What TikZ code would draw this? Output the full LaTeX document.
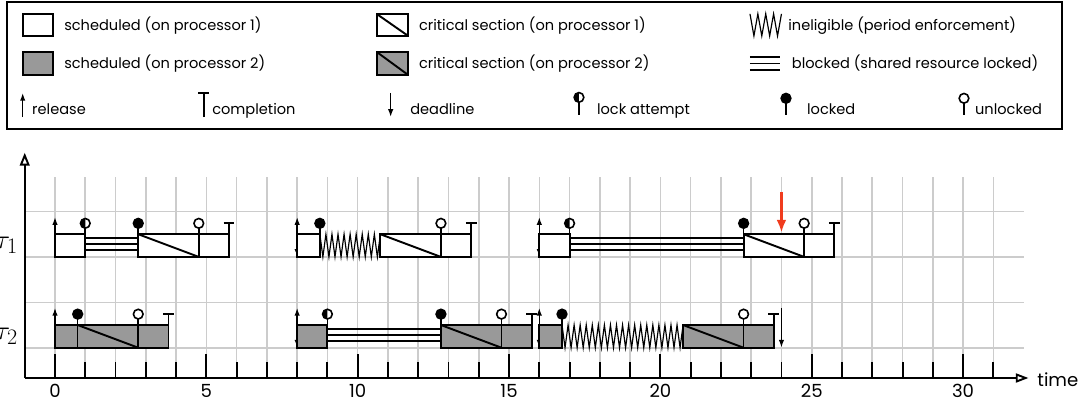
\documentclass[tikz,border=0pt]{standalone}
\usepackage{fontspec}
\setmainfont{Poppins}
\usetikzlibrary{arrows.meta}
\definecolor{gridgray}{gray}{0.8}
\definecolor{procgray}{gray}{0.6}
\definecolor{missred}{RGB}{240,60,30}
\tikzset{
  gridline/.style={draw=gridgray, line width=1.5pt},
  axisline/.style={line width=1.8pt},
  jobbox/.style={draw, line width=1.8pt, fill=white},
  jobboxg/.style={draw, line width=1.8pt, fill=procgray},
  edgeline/.style={line width=1.8pt},
  blk/.style={line width=1.8pt},
  zz/.style={line width=1.1pt, line join=miter},
  pinline/.style={line width=1.5pt},
  relarrow/.style={line width=1.4pt, -{Latex[length=0.26cm,width=0.18cm]}},
  dblarrow/.style={line width=1.4pt, {Latex[length=0.26cm,width=0.18cm]}-{Latex[length=0.26cm,width=0.18cm]}},
  lgtext/.style={anchor=base west, inner sep=0pt, font=\fontsize{13.7}{16}\selectfont},
  ticklbl/.style={anchor=base, inner sep=0pt, font=\fontsize{17}{20}\selectfont},
  taulbl/.style={anchor=east, inner sep=0pt, font=\Huge},
}
\newcommand\pinfree[3]{\draw[pinline] (#1,#2) -- (#1,{#3-0.16}); \draw[pinline,fill=white] (#1,#3) circle (0.16);}
\newcommand\pinheld[3]{\draw[pinline] (#1,#2) -- (#1,{#3-0.16}); \filldraw[pinline] (#1,#3) circle (0.16);}
\newcommand\pintry[3]{\draw[pinline] (#1,#2) -- (#1,{#3-0.16}); \fill[white] (#1,#3) circle (0.16); \fill (#1,{#3+0.16}) arc (90:270:0.16) -- cycle; \draw[pinline] (#1,#3) circle (0.16);}
\newcommand\complmark[3]{\draw[edgeline] (#1,#2) -- (#1,#3); \draw[edgeline] ({#1-0.18},#3) -- ({#1+0.18},#3);}
\newcommand\zigz[5]{\draw[zz] (#1,#5) \foreach \k in {1,...,#2} { -- ({#1+#3*\k},{#5-(#5-#4)*mod(\k,2)}) };}
\newcommand\blocked[3]{\foreach \o in {0.22,0.42,0.62} \draw[blk] (#1,{#3+\o}) -- (#2,{#3+\o});}
\begin{document}
\begin{tikzpicture}[x=1cm,y=1cm]
\useasboundingbox (-1.817,-0.925) rectangle (34.094,12.488);
% ---------- legend ----------
\draw[line width=1.7pt] (-1.586,8.226) rectangle (33.267,12.42);
\draw[jobbox] (-1.067,11.30) rectangle (-0.056,12.025);
\node[lgtext] (lg1) at (0.30,11.48) {scheduled (on processor 1)};
\draw[jobboxg] (-1.067,10.01) rectangle (-0.056,10.77);
\node[lgtext] (lg2) at (0.30,10.21) {scheduled (on processor 2)};
\draw[jobbox] (10.63,11.30) rectangle (11.67,12.025);
\draw[edgeline] (10.63,12.025) -- (11.67,11.30);
\node[lgtext] (lg3) at (12.02,11.48) {critical section (on processor 1)};
\draw[jobboxg] (10.63,10.01) rectangle (11.67,10.77);
\draw[edgeline] (10.63,10.77) -- (11.67,10.01);
\node[lgtext] (lg4) at (12.02,10.21) {critical section (on processor 2)};
\zigz{22.96}{8}{0.13}{11.30}{12.03}
\node[lgtext] (lg5) at (24.22,11.48) {ineligible (period enforcement)};
\foreach \yy in {10.18,10.39,10.60} \draw[blk] (22.96,\yy) -- (23.96,\yy);
\node[lgtext] (lg6) at (24.34,10.21) {blocked (shared resource locked)};
\draw[relarrow] (-1.067,8.62) -- (-1.067,9.42);
\node[lgtext] (lg7) at (-0.76,8.72) {release};
\complmark{4.92}{8.62}{9.42}
\node[lgtext] (lg8) at (5.19,8.72) {completion};
\draw[relarrow] (11.09,9.42) -- (11.09,8.62);
\node[lgtext] (lg9) at (11.73,8.72) {deadline};
\pintry{17.31}{8.69}{9.27}
\node[lgtext] (lg10) at (17.9,8.72) {lock attempt};
\pinheld{24.15}{8.69}{9.24}
\node[lgtext] (lg11) at (24.84,8.72) {locked};
\pinfree{30.03}{8.69}{9.24}
\node[lgtext] (lg12) at (30.39,8.72) {unlocked};
% ---------- grid ----------
\foreach \t in {0,...,31} \draw[gridline] (\t,0) -- (\t,6.64);
\foreach \y in {1,2.5,4,5.5} \draw[gridline] (-1,\y) -- (32,\y);
% ---------- axes ----------
\coordinate (origin) at (-1,0);
\coordinate (xend) at (32.16,0);
\coordinate (yend) at (-1,7.44);
\draw[axisline, -{Triangle[open,length=0.42cm,width=0.3cm]}] (origin) -- (xend);
\draw[axisline, -{Triangle[open,length=0.42cm,width=0.32cm]}] (origin) -- (yend);
\foreach \t in {0,...,31} \draw[axisline] (\t,0) -- (\t,0.53);
\foreach \t in {0,5,...,30} {\draw[axisline] (\t,0) -- (\t,0.8); \node[ticklbl] (lbl\t) at (\t,-0.64) {\t};}
\node[anchor=base west, inner sep=0pt, font=\fontsize{17}{20}\selectfont] (timelbl) at (32.45,-0.29) {time};
\node[taulbl] (tau1) at (-1.22,4.375) {$\tau_1$};
\node[taulbl] (tau2) at (-1.22,1.375) {$\tau_2$};
% ---------- tau1 ----------
% job 1
\draw[relarrow] (0,4) -- (0,5.32);
\draw[jobbox] (0,4) rectangle (1,4.75);
\blocked{1}{2.75}{4}
\draw[jobbox] (2.75,4) rectangle (5.75,4.75);
\draw[edgeline] (2.75,4.75) -- (4.75,4);
\pintry{1}{4.75}{5.11}
\pinheld{2.75}{4.75}{5.11}
\pinfree{4.75}{4}{5.11}
\complmark{5.75}{4.75}{5.12}
% job 2
\draw[dblarrow] (8,4) -- (8,5.32);
\draw[jobbox] (8,4) rectangle (8.75,4.75);
\zigz{8.75}{20}{0.1}{4}{4.75}
\draw[jobbox] (10.75,4) rectangle (13.75,4.75);
\draw[edgeline] (10.75,4.75) -- (12.75,4);
\pinheld{8.75}{4.75}{5.11}
\pinfree{12.75}{4}{5.11}
\complmark{13.75}{4.75}{5.12}
% job 3
\draw[dblarrow] (16,4) -- (16,5.32);
\draw[jobbox] (16,4) rectangle (17,4.75);
\blocked{17}{22.75}{4}
\draw[jobbox] (22.75,4) rectangle (25.75,4.75);
\draw[edgeline] (22.75,4.75) -- (24.75,4);
\pintry{17}{4.75}{5.11}
\pinheld{22.75}{4.75}{5.11}
\pinfree{24.75}{4}{5.11}
\complmark{25.75}{4.75}{5.12}
\draw[line width=2.6pt, color=missred, -{Latex[length=0.42cm,width=0.32cm]}] (24,6.15) -- (24,4.8);
% ---------- tau2 ----------
% job 1
\draw[relarrow] (0,1) -- (0,2.32);
\draw[jobboxg] (0,1) rectangle (3.75,1.75);
\draw[edgeline] (0.75,1.75) -- (2.75,1);
\pinheld{0.75}{1}{2.11}
\pinfree{2.75}{1}{2.11}
\complmark{3.75}{1.75}{2.12}
% job 2
\draw[dblarrow] (8,1) -- (8,2.32);
\draw[jobboxg] (8,1) rectangle (9,1.75);
\blocked{9}{12.75}{1}
\draw[jobboxg] (12.75,1) rectangle (15.75,1.75);
\draw[edgeline] (12.75,1.75) -- (14.75,1);
\pintry{9}{1.75}{2.11}
\pinheld{12.75}{1.75}{2.11}
\pinfree{14.75}{1}{2.11}
\complmark{15.75}{1.75}{2.12}
% job 3
\draw[dblarrow] (16,1) -- (16,2.32);
\draw[jobboxg] (16,1) rectangle (16.75,1.75);
\zigz{16.75}{40}{0.1}{1}{1.75}
\draw[jobboxg] (20.75,1) rectangle (23.75,1.75);
\draw[edgeline] (20.75,1.75) -- (22.75,1);
\pinheld{16.75}{1.75}{2.11}
\pinfree{22.75}{1}{2.11}
\complmark{23.75}{1.75}{2.12}
\draw[relarrow] (24,2.32) -- (24,1);
\end{tikzpicture}
\end{document}
